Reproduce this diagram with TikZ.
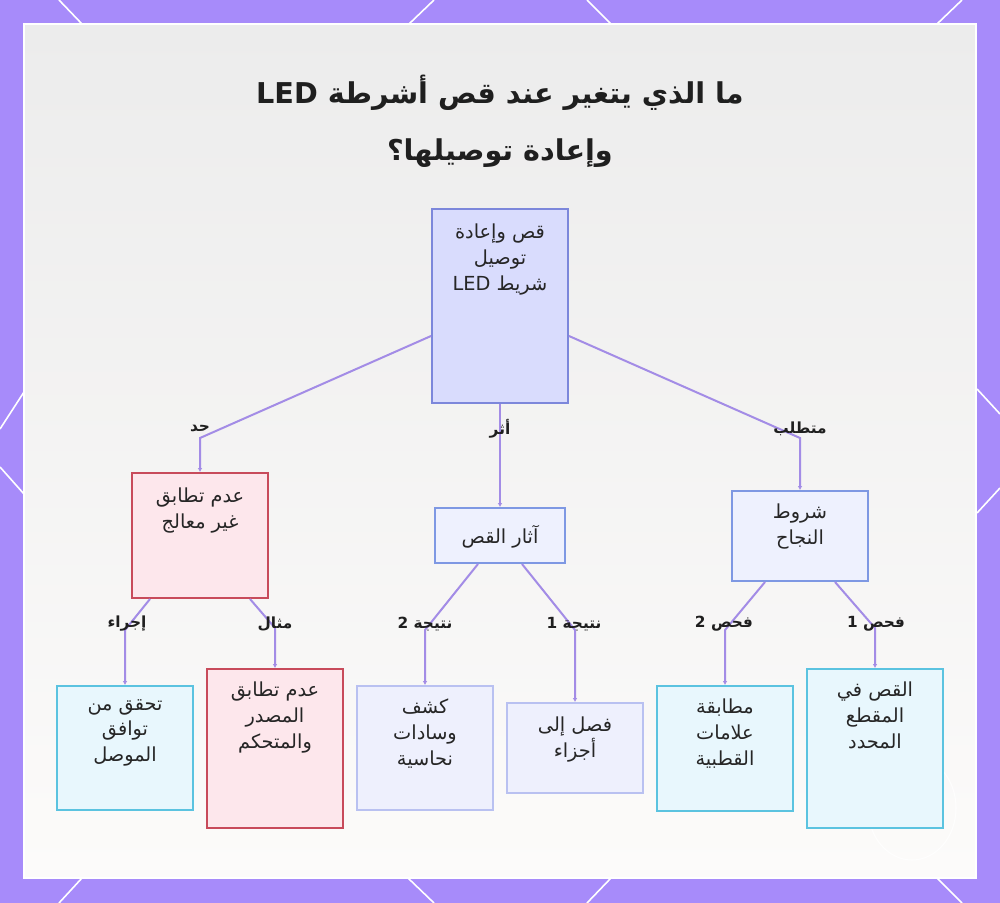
\documentclass[tikz,border=0pt]{standalone}
\usepackage{fontspec}
\usetikzlibrary{arrows.meta,calc}
\TeXXeTstate=1
\newfontfamily\arabicfont[Script=Arabic]{DejaVu Sans}
\newcommand\RL[1]{\beginR #1\endR}
\definecolor{bgpurple}{HTML}{A78BFA}
\definecolor{edgec}{HTML}{A38CE6}
\definecolor{rootfill}{HTML}{D9DCFD}
\definecolor{rootdraw}{HTML}{7C87DB}
\definecolor{redfill}{HTML}{FDE7EC}
\definecolor{reddraw}{HTML}{C84B5B}
\definecolor{bluefill}{HTML}{EEF1FE}
\definecolor{bluedraw}{HTML}{7E98E3}
\definecolor{lavfill}{HTML}{EEF0FD}
\definecolor{lavdraw}{HTML}{B9C1F1}
\definecolor{cyanfill}{HTML}{E8F7FD}
\definecolor{cyandraw}{HTML}{5BC3E0}
\definecolor{paneltop}{HTML}{ECECEC}
\definecolor{panelbot}{HTML}{FCFBFA}
\definecolor{txtc}{HTML}{262626}
\begin{document}
\begin{tikzpicture}[x=0.75pt,y=-0.75pt,
  edge/.style={draw=edgec, line width=1.5pt, -{Latex[length=3pt,width=3.5pt]}},
  box/.style={draw, line width=1.5pt, minimum width=102pt, inner sep=0pt},
  rootbox/.style={box, fill=rootfill, draw=rootdraw},
  redbox/.style={box, fill=redfill, draw=reddraw},
  bluebox/.style={box, fill=bluefill, draw=bluedraw},
  lavbox/.style={box, fill=lavfill, draw=lavdraw},
  cyanbox/.style={box, fill=cyanfill, draw=cyandraw},
  txt/.style={font=\arabicfont\fontsize{14.5}{19.2}\selectfont, text=txtc, align=center, inner sep=0pt},
  lbl/.style={font=\arabicfont\bfseries\fontsize{11.5}{13}\selectfont, text=black!88, inner sep=0pt},
  deco/.style={draw=white, line width=1.2pt}
]
\useasboundingbox (0,0) rectangle (1000,903);
% background
\fill[bgpurple] (0,0) rectangle (1000,903);
\draw[deco] (59,0) -- (82,24);
\draw[deco] (434,0) -- (409,24);
\draw[deco] (587,0) -- (611,24);
\draw[deco] (962,0) -- (937,24);
\draw[deco] (59,903) -- (82,878);
\draw[deco] (434,903) -- (408,878);
\draw[deco] (587,903) -- (611,878);
\draw[deco] (962,903) -- (937,878);
\draw[deco] (0,429) -- (24,392);
\draw[deco] (0,467) -- (24,494);
\draw[deco] (1000,414) -- (977,389);
\draw[deco] (1000,488) -- (977,513);
\shade[top color=paneltop, bottom color=panelbot] (24,24) rectangle (976,878);
\draw[white, line width=1.5pt] (24,24) rectangle (976,878);
\draw[white, line width=0.8pt, opacity=0.8] (912,808) ellipse (44 and 52);

% title
\node[font=\arabicfont\bfseries\fontsize{21.5}{43}\selectfont, align=center, text=black!88, inner sep=0pt] (title) at (500,121)
  {\RL{ما الذي يتغير عند قص أشرطة \beginL LED\endL}\\\RL{وإعادة توصيلها؟}};

% boxes
\node[rootbox, minimum height=145.5pt] (root) at (500,306) {};
\node[redbox, minimum height=93.75pt] (red1) at (200,535.5) {};
\node[bluebox, minimum width=97.5pt, minimum height=41.25pt] (mid) at (500,535.5) {};
\node[bluebox, minimum height=67.5pt] (succ) at (800,536) {};
\node[cyanbox, minimum height=93pt] (b1) at (125,748) {};
\node[redbox, minimum height=119.25pt] (b2) at (275,748.5) {};
\node[lavbox, minimum height=93pt] (b3) at (425,748) {};
\node[lavbox, minimum height=67.5pt] (b4) at (575,748) {};
\node[cyanbox, minimum height=93.75pt] (b5) at (725,748.5) {};
\node[cyanbox, minimum height=119.25pt] (b6) at (875,748.5) {};

% box texts
\node[txt, anchor=north] (root-t) at ([yshift=-12pt]root.north) {\RL{قص وإعادة}\\\RL{توصيل}\\\RL{شريط \beginL LED\endL}};
\node[txt, anchor=north] (red1-t) at ([yshift=-12pt]red1.north) {\RL{عدم تطابق}\\\RL{غير معالج}};
\node[txt] (mid-t) at ([yshift=-1pt]mid.center) {\RL{آثار القص}};
\node[txt, anchor=north] (succ-t) at ([yshift=-10.5pt]succ.north) {\RL{شروط}\\\RL{النجاح}};
\node[txt, anchor=north] (b1-t) at ([yshift=-10.5pt]b1.north) {\RL{تحقق من}\\\RL{توافق}\\\RL{الموصل}};
\node[txt, anchor=north] (b2-t) at ([yshift=-10.5pt]b2.north) {\RL{عدم تطابق}\\\RL{المصدر}\\\RL{والمتحكم}};
\node[txt, anchor=north] (b3-t) at ([yshift=-10.5pt]b3.north) {\RL{كشف}\\\RL{وسادات}\\\RL{نحاسية}};
\node[txt, anchor=north] (b4-t) at ([yshift=-11pt]b4.north) {\RL{فصل إلى}\\\RL{أجزاء}};
\node[txt, anchor=north] (b5-t) at ([yshift=-10.5pt]b5.north) {\RL{مطابقة}\\\RL{علامات}\\\RL{القطبية}};
\node[txt, anchor=north] (b6-t) at ([yshift=-10.5pt]b6.north) {\RL{القص في}\\\RL{المقطع}\\\RL{المحدد}};

% bends
\coordinate (k1) at (200,438);
\coordinate (k3) at (800,438);
\coordinate (k4) at (125,630);
\coordinate (k5) at (275,628);
\coordinate (k6) at (425,630);
\coordinate (k7) at (575,630);
\coordinate (k8) at (725,630);
\coordinate (k9) at (875,628);

% edges
\draw[edge] ([yshift=-22.5pt]root.west) -- (k1) -- (red1.north);
\draw[edge] (root.south) -- (mid.north);
\draw[edge] ([yshift=-22.5pt]root.east) -- (k3) -- (succ.north);
\draw[edge] ([xshift=-37.5pt]red1.south) -- (k4) -- (b1.north);
\draw[edge] ([xshift=37.5pt]red1.south) -- (k5) -- (b2.north);
\draw[edge] ([xshift=-16.5pt]mid.south) -- (k6) -- (b3.north);
\draw[edge] ([xshift=16.5pt]mid.south) -- (k7) -- (b4.north);
\draw[edge] ([xshift=-26.25pt]succ.south) -- (k8) -- (b5.north);
\draw[edge] ([xshift=26.25pt]succ.south) -- (k9) -- (b6.north);

% labels
\node[lbl] (l1) at (200,429) {\RL{حد}};
\node[lbl] (l2) at (500,429) {\RL{أثر}};
\node[lbl] (l3) at (800,429) {\RL{متطلب}};
\node[lbl] (l4) at (127,624) {\RL{إجراء}};
\node[lbl] (l5) at (275,624) {\RL{مثال}};
\node[lbl] (l6) at (425,624) {\RL{نتيجة 2}};
\node[lbl] (l7) at (574,624) {\RL{نتيجة 1}};
\node[lbl] (l8) at (724,624) {\RL{فحص 2}};
\node[lbl] (l9) at (876,624) {\RL{فحص 1}};
\end{tikzpicture}
\end{document}
